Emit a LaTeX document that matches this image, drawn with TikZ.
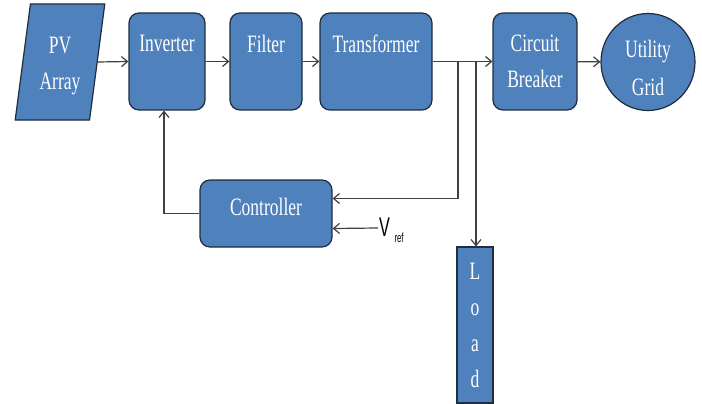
\documentclass[tikz,border=0pt]{standalone}
\usepackage{fontspec}
\usepackage{tikz}
\usetikzlibrary{
arrows.meta,
positioning,
shapes.geometric
}
\newfontfamily\blockfont[FakeStretch=0.7]{Liberation Serif}
\newfontfamily\reffont[FakeStretch=0.6]{Liberation Sans}
\definecolor{PVBlue}{HTML}{4F81BD}
\definecolor{PVEdge}{HTML}{1F2D3D}
\definecolor{PVLine}{HTML}{404040}
\tikzset{
pvblock/.style={draw=PVEdge, fill=PVBlue, line width=1.2pt, rounded corners=10pt, align=center,
  text=white, inner sep=0pt, font=\blockfont\fontsize{25}{36}\selectfont},
pvsource/.style={pvblock, rounded corners=0pt, trapezium, trapezium left angle=81,
  trapezium right angle=99, trapezium stretches=true, minimum height=116pt, minimum width=90pt},
pvgrid/.style={pvblock, rounded corners=0pt, ellipse, minimum width=94pt, minimum height=97pt},
pvload/.style={pvblock, rounded corners=0pt, minimum width=36pt, minimum height=156pt},
pvarrow/.style={-{Straight Barb[length=6pt,width=10pt]}, line width=1.2pt, draw=PVLine},
pvlabel/.style={inner sep=1pt, font=\reffont\fontsize{27}{28}\selectfont}
}
\begin{document}
\begin{tikzpicture}[x=1pt, y=-1pt]
\useasboundingbox (0,0) rectangle (702,404);
\node[pvsource] (pv) at (60,62) {\rule{0pt}{25pt}PV\\Array};
\node[pvblock, minimum width=76pt, minimum height=97pt] (inv) at (167,61.5) {Inverter\\\phantom{B}};
\node[pvblock, minimum width=72pt, minimum height=97pt] (filt) at (266,61.5) {Filter\\\phantom{B}};
\node[pvblock, minimum width=112pt, minimum height=97pt] (tr) at (376,61.5) {Transformer\\\phantom{B}};
\node[pvblock, minimum width=84pt, minimum height=97pt] (cb) at (535,61.5) {Circuit\\Breaker};
\node[pvgrid] (grid) at (648,62) {\rule{0pt}{30pt}Utility\\[2pt]Grid};
\node[pvblock, minimum width=132pt, minimum height=67pt] (ctrl) at (266,213.5) {\rule[-14pt]{0pt}{14pt}Controller};
\node[pvload] (load) at (475,325) {L\\o\\a\\d};
\node[pvlabel, anchor=west] (vref) at (378,230) {V\,\raisebox{-6pt}{\fontsize{13}{14}\selectfont ref}};
\coordinate (tapc) at (458,62);
\coordinate (tapl) at (476,62);

\draw[pvarrow] (pv.east) -- (inv.west);
\draw[pvarrow] (inv) -- (filt);
\draw[pvarrow] (filt) -- (tr);
\draw[pvarrow] (tr) -- (cb);
\draw[pvarrow] (cb) -- (grid);
\draw[pvarrow] (tapc) |- ([yshift=15pt]ctrl.east);
\draw[pvarrow] (tapl) -- (tapl |- load.north);
\draw[pvarrow] (ctrl.west) -| ([xshift=-3pt]inv.south);
\draw[pvarrow] (vref.west |- 0,228) -- ([yshift=-15pt]ctrl.east);
\end{tikzpicture}
\end{document}
